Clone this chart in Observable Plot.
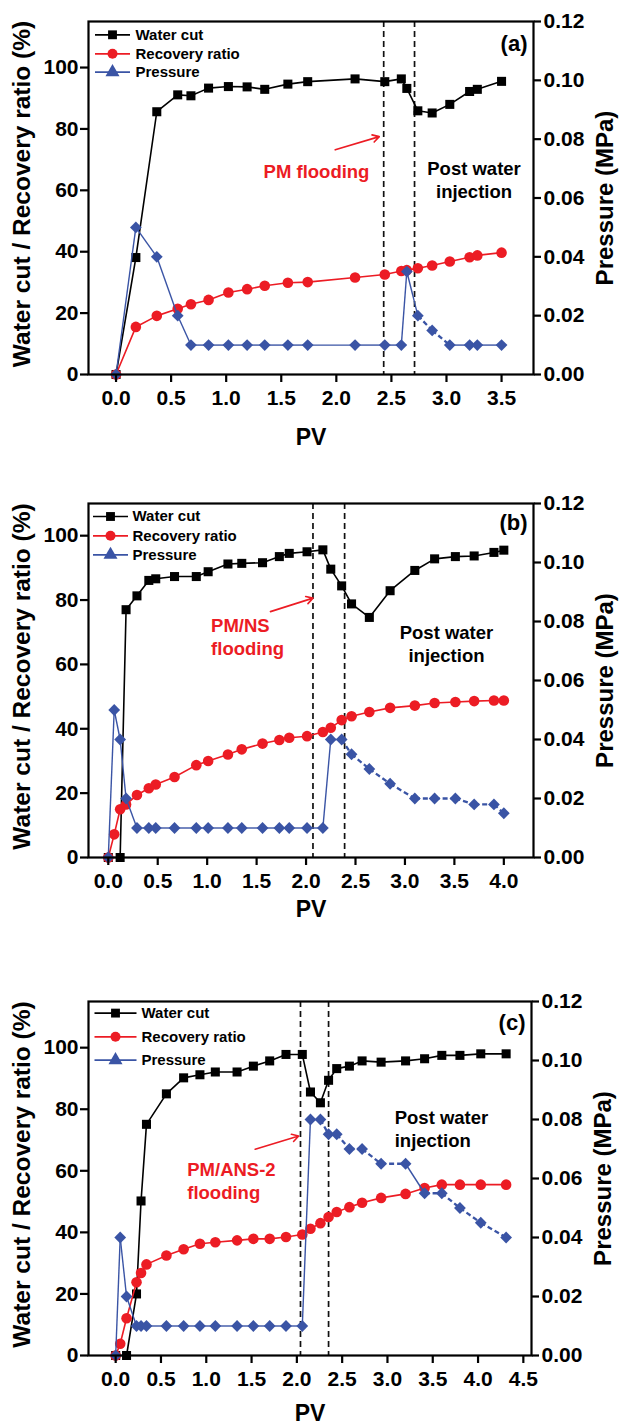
<!DOCTYPE html>
<html>
<head>
<meta charset="utf-8">
<script src="https://cdn.jsdelivr.net/npm/d3@7"></script>
<script src="https://cdn.jsdelivr.net/npm/@observablehq/plot@0.6"></script>
<style>
html, body { margin: 0; padding: 0; background: #fff; }
#chart { width: 621px; }
#chart svg { display: block; }
</style>
</head>
<body>
<div id="chart"></div>
<script>
// ---------------- DATA ----------------
const seriesLabels = ["Water cut", "Recovery ratio", "Pressure"];
const yTicksLeft = [0, 20, 40, 60, 80, 100];
const pressureTicks = [0, 0.02, 0.04, 0.06, 0.08, 0.10, 0.12];

// Panel (a)
const pvA = [0, 0.18, 0.37, 0.56, 0.68, 0.84, 1.02, 1.19, 1.35, 1.56, 1.74, 2.17, 2.44, 2.59, 2.64, 2.74, 2.87, 3.03, 3.21, 3.28, 3.50];
const waterCutA = [0, 38.1, 85.6, 91.1, 90.8, 93.3, 93.8, 93.7, 92.9, 94.6, 95.4, 96.3, 95.4, 96.3, 93.2, 85.9, 85.2, 88.0, 92.2, 92.9, 95.5];
const recoveryA = [0, 15.5, 19.1, 21.4, 22.9, 24.3, 26.7, 27.8, 28.9, 29.9, 30.1, 31.6, 32.6, 33.7, 34.0, 34.6, 35.5, 36.8, 38.2, 38.8, 39.7];
const pressureA = [0, 0.050, 0.040, 0.020, 0.010, 0.010, 0.010, 0.010, 0.010, 0.010, 0.010, 0.010, 0.010, 0.010, 0.035, 0.020, 0.015, 0.010, 0.010, 0.010, 0.010];
const xTicksA = [0, 0.5, 1.0, 1.5, 2.0, 2.5, 3.0, 3.5];
const stageBoundsA = [2.43, 2.71];
const pressureDashedA = [[2.74, 3.03]];
const noteTextA = ["PM flooding", "Post water\ninjection"];
const notePvA = [1.82, 3.25];
const noteYA = [66.5, 63.8];
const arrowPvA = [1.99, 2.39];
const arrowYA = [73.2, 77.5];

// Panel (b)
const pvB = [0, 0.06, 0.12, 0.18, 0.29, 0.41, 0.48, 0.67, 0.89, 1.01, 1.21, 1.35, 1.56, 1.73, 1.83, 2.01, 2.17, 2.25, 2.36, 2.46, 2.64, 2.85, 3.10, 3.30, 3.51, 3.70, 3.90, 4.00];
const waterCutB = [0, null, 0, 77.0, 81.3, 86.1, 86.6, 87.3, 87.3, 88.8, 91.2, 91.4, 91.6, 93.5, 94.5, 95.0, 95.6, 89.6, 84.4, 78.8, 74.6, 82.9, 89.2, 92.8, 93.5, 93.7, 94.8, 95.5];
const recoveryB = [0, 7.2, 15.0, 16.5, 19.4, 21.5, 22.7, 25.0, 28.7, 30.0, 32.0, 33.6, 35.4, 36.5, 37.2, 37.7, 39.0, 40.3, 42.7, 43.9, 45.2, 46.5, 47.2, 48.0, 48.3, 48.6, 48.8, 48.8];
const pressureB = [0, 0.050, 0.040, 0.020, 0.010, 0.010, 0.010, 0.010, 0.010, 0.010, 0.010, 0.010, 0.010, 0.010, 0.010, 0.010, 0.010, 0.040, 0.040, 0.035, 0.030, 0.025, 0.020, 0.020, 0.020, 0.018, 0.018, 0.015];
const xTicksB = [0, 0.5, 1.0, 1.5, 2.0, 2.5, 3.0, 3.5, 4.0];
const stageBoundsB = [2.07, 2.39];
const pressureDashedB = [[2.36, 4.00]];
const noteTextB = ["PM/NS\nflooding", "Post water\ninjection"];
const notePvB = [1.04, 3.42];
const noteYB = [68.8, 66.7];
const arrowPvB = [1.64, 2.07];
const arrowYB = [76.4, 80.6];

// Panel (c)
const pvC = [0, 0.05, 0.12, 0.23, 0.28, 0.34, 0.56, 0.75, 0.93, 1.10, 1.34, 1.52, 1.70, 1.88, 2.06, 2.15, 2.26, 2.35, 2.44, 2.58, 2.72, 2.93, 3.20, 3.41, 3.60, 3.80, 4.03, 4.31];
const waterCutC = [0, null, 0, 20.0, 50.2, 75.1, 85.0, 90.2, 91.2, 92.1, 92.1, 94.0, 95.7, 97.8, 97.8, 85.6, 82.1, 89.4, 93.2, 94.0, 95.7, 95.3, 95.7, 96.4, 97.5, 97.5, 98.0, 98.0];
const recoveryC = [0, 3.8, 12.1, 23.8, 26.8, 29.6, 32.5, 34.5, 36.3, 36.8, 37.4, 37.9, 37.9, 38.5, 39.3, 41.2, 43.0, 45.0, 46.6, 48.2, 49.6, 51.2, 52.5, 54.4, 55.5, 55.5, 55.5, 55.5];
const pressureC = [0, 0.040, 0.020, 0.010, 0.010, 0.010, 0.010, 0.010, 0.010, 0.010, 0.010, 0.010, 0.010, 0.010, 0.010, 0.080, 0.080, 0.075, 0.075, 0.070, 0.070, 0.065, 0.065, 0.055, 0.055, 0.050, 0.045, 0.040];
const xTicksC = [0, 0.5, 1.0, 1.5, 2.0, 2.5, 3.0, 3.5, 4.0, 4.5];
const stageBoundsC = [2.04, 2.35];
const pressureDashedC = [[2.26, 3.20], [3.41, 4.31]];
const noteTextC = ["PM/ANS-2\nflooding", "Post water\ninjection"];
const notePvC = [0.79, 3.08];
const noteYC = [57.0, 73.8];
const arrowPvC = [1.54, 2.02];
const arrowYC = [67.0, 71.3];

// ---------------- DRAWING ----------------
const RED = "#ec1c24", BLUE = "#3a54a5", BLACK = "#000";
const FONT = "'Liberation Sans', Arial, Helvetica, sans-serif";

function legendLine(half) {
  return { draw(ctx) { ctx.moveTo(-half, 0); ctx.lineTo(half, 0); } };
}

function panel(c) {
  const k = c.yMax / 0.12; // left-axis units per MPa
  const rows = c.pv.map((x, i) => ({x, wc: c.wc[i], rr: c.rr[i], p: c.p[i]}));
  const segs = d3.pairs(rows).map(([a, b]) => {
    const m = (a.x + b.x) / 2;
    return {x1: a.x, y1: a.p * k, x2: b.x, y2: b.p * k,
            dashed: c.dashed.some(([s, e]) => m > s && m < e)};
  });
  const wcRows = rows.filter(d => d.wc != null);
  const arrow = [{x1: c.arrowPv[0], y1: c.arrowY[0], x2: c.arrowPv[1], y2: c.arrowY[1]}];
  const lg = c.legend;
  const symbols = ["square", "circle", "triangle"];
  const colors = [BLACK, RED, BLUE];

  const noteMarks = c.noteText.map((t, i) => Plot.text([t], {
    x: () => c.notePv[i], y: () => c.noteY[i], text: d => d,
    fill: i === 0 ? RED : BLACK, textAnchor: c.noteAnchor[i], lineAnchor: "middle",
    lineHeight: 1.25, fontSize: 18.5, fontWeight: "bold"
  }));

  const legendMarks = seriesLabels.flatMap((label, i) => [
    Plot.dot([label], {frameAnchor: "top-left", dx: lg.cx, dy: lg.dy[i], symbol: legendLine(lg.half), stroke: colors[i], strokeWidth: 1.7, fill: "none"}),
    Plot.dot([label], {frameAnchor: "top-left", dx: lg.cx, dy: lg.dy[i], symbol: symbols[i], fill: colors[i], r: i === 2 ? 5.2 : 5}),
    Plot.text([label], {frameAnchor: "top-left", dx: lg.tx, dy: lg.dy[i], text: d => d, textAnchor: "start", lineAnchor: "middle", fontSize: 15, fontWeight: "bold", fill: BLACK})
  ]);

  return Plot.plot({
    width: 621,
    height: c.height,
    marginLeft: 88,
    marginRight: c.marginRight,
    marginTop: c.marginTop,
    marginBottom: c.marginBottom,
    style: {fontFamily: FONT, fontSize: "21px", fontWeight: "bold", background: "#fff", overflow: "visible", color: "#000"},
    x: {domain: c.xDomain},
    y: {domain: [0, c.yMax]},
    marks: [
      Plot.ruleX(c.bounds, {stroke: "#111", strokeWidth: 1.7, strokeDasharray: "6,4"}),
      // water cut
      Plot.line(wcRows, {x: "x", y: "wc", stroke: BLACK, strokeWidth: 1.6}),
      Plot.dot(wcRows, {x: "x", y: "wc", symbol: "square", fill: BLACK, r: 5.1}),
      // recovery
      Plot.line(rows, {x: "x", y: "rr", stroke: RED, strokeWidth: 1.6}),
      Plot.dot(rows, {x: "x", y: "rr", symbol: "circle", fill: RED, r: 5.3}),
      // pressure (plotted against the right axis)
      Plot.link(segs.filter(d => !d.dashed), {x1: "x1", y1: "y1", x2: "x2", y2: "y2", stroke: BLUE, strokeWidth: 1.4}),
      Plot.link(segs.filter(d => d.dashed), {x1: "x1", y1: "y1", x2: "x2", y2: "y2", stroke: BLUE, strokeWidth: 2.3, strokeDasharray: "5,3"}),
      Plot.dot(rows, {x: "x", y: d => d.p * k, symbol: "diamond2", fill: BLUE, r: 5.3}),
      // annotations
      Plot.arrow(arrow, {x1: "x1", y1: "y1", x2: "x2", y2: "y2", stroke: RED, strokeWidth: 1.6, headLength: 7}),
      ...noteMarks,
      Plot.text([c.tag], {frameAnchor: "top-right", dx: -6, dy: c.tagDy, text: d => d, textAnchor: "end", lineAnchor: "middle", fontSize: 22, fontWeight: "bold"}),
      ...legendMarks,
      // axes
      Plot.frame({stroke: BLACK, strokeWidth: 2.2}),
      Plot.axisX(c.xTicks, {tickFormat: d => d.toFixed(1), tickSize: 8, tickPadding: 8, strokeWidth: 2.2, label: null}),
      Plot.axisY(yTicksLeft, {tickFormat: d => String(d), tickSize: 8, tickPadding: 2, strokeWidth: 2.2, label: null}),
      Plot.axisY(pressureTicks.map(v => v * k), {anchor: "right", tickFormat: d => (d / k).toFixed(2), tickSize: 7, tickPadding: 3, strokeWidth: 2.2, label: null}),
      Plot.text(["Water cut / Recovery ratio (%)"], {frameAnchor: "left", dx: -66, dy: -4, rotate: -90, text: d => d, textAnchor: "middle", lineAnchor: "middle", fontSize: 24.5, fontWeight: "bold"}),
      Plot.text(["Pressure (MPa)"], {frameAnchor: "right", dx: 72, rotate: -90, text: d => d, textAnchor: "middle", lineAnchor: "middle", fontSize: 24, fontWeight: "bold"}),
      Plot.text(["PV"], {frameAnchor: "bottom", dy: c.pvDy, text: d => d, textAnchor: "middle", lineAnchor: "middle", fontSize: 23, fontWeight: "bold"})
    ]
  });
}

const panels = [
  {pv: pvA, wc: waterCutA, rr: recoveryA, p: pressureA, xTicks: xTicksA, bounds: stageBoundsA, dashed: pressureDashedA,
   noteText: noteTextA, notePv: notePvA, noteY: noteYA, noteAnchor: ["middle", "middle"], arrowPv: arrowPvA, arrowY: arrowYA,
   tag: "(a)", tagDy: 22, yMax: 115, xDomain: [-0.25, 3.79], height: 460, marginTop: 21, marginBottom: 86, marginRight: 88, pvDy: 63,
   legend: {cx: 24, half: 17.5, tx: 47, dy: [13.3, 32.3, 50.7]}},
  {pv: pvB, wc: waterCutB, rr: recoveryB, p: pressureB, xTicks: xTicksB, bounds: stageBoundsB, dashed: pressureDashedB,
   noteText: noteTextB, notePv: notePvB, noteY: noteYB, noteAnchor: ["start", "middle"], arrowPv: arrowPvB, arrowY: arrowYB,
   tag: "(b)", tagDy: 19, yMax: 110, xDomain: [-0.2, 4.3], height: 490, marginTop: 43, marginBottom: 93, marginRight: 88, pvDy: 52,
   legend: {cx: 22, half: 17.5, tx: 44, dy: [13, 32.3, 51.3]}},
  {pv: pvC, wc: waterCutC, rr: recoveryC, p: pressureC, xTicks: xTicksC, bounds: stageBoundsC, dashed: pressureDashedC,
   noteText: noteTextC, notePv: notePvC, noteY: noteYC, noteAnchor: ["start", "start"], arrowPv: arrowPvC, arrowY: arrowYC,
   tag: "(c)", tagDy: 21, yMax: 115, xDomain: [-0.3, 4.59], height: 475, marginTop: 51, marginBottom: 70, marginRight: 90, pvDy: 58,
   legend: {cx: 27, half: 21, tx: 53, dy: [11.6, 35.3, 58.6]}}
];

const root = document.getElementById("chart");
for (const c of panels) root.appendChild(panel(c));
</script>
</body>
</html>
